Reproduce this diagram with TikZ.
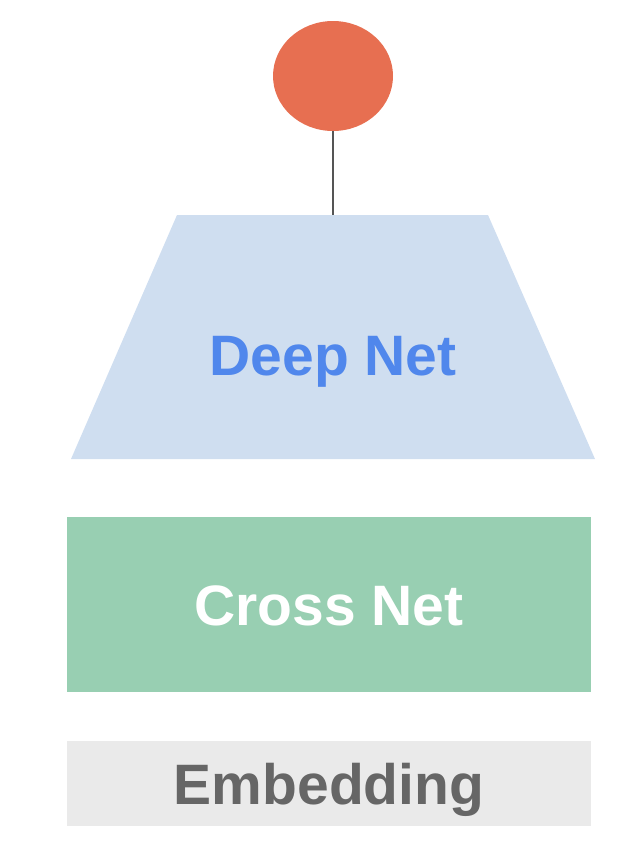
\documentclass[tikz,border=0pt]{standalone}
\usepackage{fontspec}
\setmainfont{Liberation Sans}
\usetikzlibrary{shapes,positioning,calc}
\usepackage{xcolor}
\definecolor{outred}{RGB}{231,111,81}
\definecolor{deepblue}{RGB}{207,222,240}
\definecolor{deeptext}{RGB}{80,135,236}
\definecolor{crossgreen}{RGB}{152,207,178}
\definecolor{embgray}{RGB}{234,234,234}
\definecolor{embtext}{RGB}{102,102,102}
\definecolor{linegray}{RGB}{85,85,85}

\begin{document}
\begin{tikzpicture}[x=1pt,y=-1pt,
    label/.style={inner sep=0pt, text height=41pt, text depth=0pt, font=\fontsize{57}{60}\selectfont\bfseries},
    layer/.style={label, rectangle, minimum width=524pt}]
    \useasboundingbox (0,0) rectangle (628,846);

    \node[ellipse, fill=outred, minimum width=120pt, minimum height=110pt, inner sep=0pt] (output) at (333,76) {};
    \fill[deepblue] (177,215) coordinate (deeptop) -- (488,215) -- (595,459) -- (71,459) -- cycle;
    \node[label, text=deeptext] (deep) at (333,355) {Deep Net};
    \node[layer, fill=crossgreen, minimum height=175pt, text=white] (cross) at (329,604.5) {Cross Net};
    \node[layer, fill=embgray, minimum height=85pt, text=embtext] (embedding) at (329,783.5) {Embedding};

    \draw[linegray, line width=2.5pt] (output.south) -- (output.south |- deeptop);
\end{tikzpicture}
\end{document}
